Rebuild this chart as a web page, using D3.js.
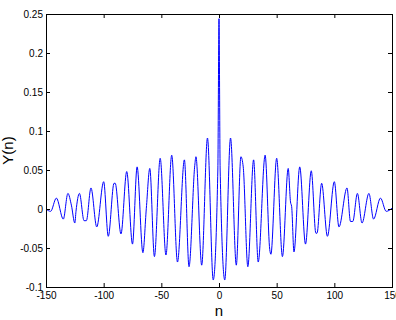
<!DOCTYPE html>
<html>
<head>
<meta charset="utf-8">
<script src="https://cdn.jsdelivr.net/npm/d3@7"></script>
<style>
  body { margin: 0; background: #fff; }
  svg { display: block; font-family: "Liberation Sans", Arial, sans-serif; }
</style>
</head>
<body>
<div id="chart"></div>
<script>
// sample index n at peaks, troughs and kinks
const nValues = [
  -150, -146, -141, -135, -131, -128, -125, -124, -121, -117, -115, -111, -106, -100,
  -96, -91, -90, -85, -80, -75, -71, -66, -63, -60, -56, -51, -46, -41, -36, -30,
  -26, -21, -20, -15, -10, -5, -1, 0, 1, 5, 10, 15, 19, 21, 25, 30, 34, 40, 44, 45,
  50, 55, 60, 62, 63, 65, 70, 75, 80, 84, 85, 89, 94, 100, 104, 111, 114, 116, 120,
  124, 130, 134, 140, 145, 150
];
const yValues = [
  0.000, -0.003, 0.014, -0.013, 0.020, 0.005, -0.018, -0.003, 0.020, -0.015, -0.015, 0.027, -0.023, 0.035,
  -0.035, 0.033, 0.033, -0.032, 0.048, -0.045, 0.054, -0.056, 0.001, 0.052, -0.061, 0.065, -0.059, 0.069, -0.068, 0.063,
  -0.074, 0.056, 0.067, -0.072, 0.091, -0.091, 0.050, 0.244, 0.050, -0.091, 0.091, -0.072, 0.067, 0.054, -0.074, 0.063, -0.068, 0.069, -0.052, -0.058,
  0.065, -0.061, 0.052, 0.009, 0.003, -0.055, 0.054, -0.045, 0.049, -0.031, -0.031, 0.033, -0.035, 0.035, -0.023, 0.027, -0.016, -0.016, 0.020,
  -0.018, 0.020, -0.013, 0.014, -0.003, 0.001
];

const xTicks = [-150, -100, -50, 0, 50, 100, 150];
const xTickLabels = ["-150", "-100", "-50", "0", "50", "100", "150"];
const yTicks = [-0.1, -0.05, 0, 0.05, 0.1, 0.15, 0.2, 0.25];
const yTickLabels = ["-0.1", "-0.05", "0", "0.05", "0.1", "0.15", "0.2", "0.25"];

const width = 396, height = 320;
const margin = { top: 14, right: 4, bottom: 33, left: 46 };
const w = width - margin.left - margin.right;
const h = height - margin.top - margin.bottom;

const svg = d3.select("#chart").append("svg")
    .attr("width", width)
    .attr("height", height);

const g = svg.append("g")
    .attr("transform", "translate(" + margin.left + "," + margin.top + ")");

const x = d3.scaleLinear().domain([-150, 150]).range([0, w]);
const y = d3.scaleLinear().domain([-0.1, 0.25]).range([h, 0]);

const points = nValues.map((n, i) => ({ n: n, v: yValues[i] }));

// the signal
const line = d3.line()
    .x(d => x(d.n))
    .y(d => y(d.v))
    .curve(d3.curveMonotoneX);

g.append("path")
    .datum(points)
    .attr("fill", "none")
    .attr("stroke", "#0000ff")
    .attr("stroke-width", 1)
    .attr("d", line);

// axes, ticks pointing inward like matlab
function styleAxis(sel) {
    sel.select(".domain").remove();
    sel.selectAll(".tick line").attr("stroke", "#000");
    sel.selectAll("text")
        .attr("font-size", "10px")
        .attr("fill", "#000")
        .attr("font-family", "Liberation Sans, Arial, sans-serif");
}

g.append("g")
    .attr("transform", "translate(0," + h + ")")
    .call(d3.axisBottom(x).tickValues(xTicks)
        .tickFormat((d, i) => xTickLabels[i])
        .tickSizeInner(-4).tickSizeOuter(0).tickPadding(5))
    .call(styleAxis);

g.append("g")
    .call(d3.axisTop(x).tickValues(xTicks).tickFormat("")
        .tickSizeInner(-4).tickSizeOuter(0))
    .call(styleAxis);

g.append("g")
    .call(d3.axisLeft(y).tickValues(yTicks)
        .tickFormat((d, i) => yTickLabels[i])
        .tickSizeInner(-4).tickSizeOuter(0).tickPadding(3))
    .call(styleAxis);

g.append("g")
    .attr("transform", "translate(" + w + ",0)")
    .call(d3.axisRight(y).tickValues(yTicks).tickFormat("")
        .tickSizeInner(-4).tickSizeOuter(0))
    .call(styleAxis);

// box
g.append("rect")
    .attr("x", 0.5)
    .attr("y", 0.5)
    .attr("width", w)
    .attr("height", h)
    .attr("fill", "none")
    .attr("stroke", "#000")
    .attr("stroke-width", 1)
    .attr("shape-rendering", "crispEdges");

// axis labels
svg.append("text")
    .attr("x", margin.left + w / 2)
    .attr("y", 316)
    .attr("text-anchor", "middle")
    .attr("font-size", "15px")
    .text("n");

svg.append("text")
    .attr("transform", "translate(13," + (margin.top + h / 2) + ") rotate(-90)")
    .attr("text-anchor", "middle")
    .attr("font-size", "15px")
    .text("Y(n)");
</script>
</body>
</html>
